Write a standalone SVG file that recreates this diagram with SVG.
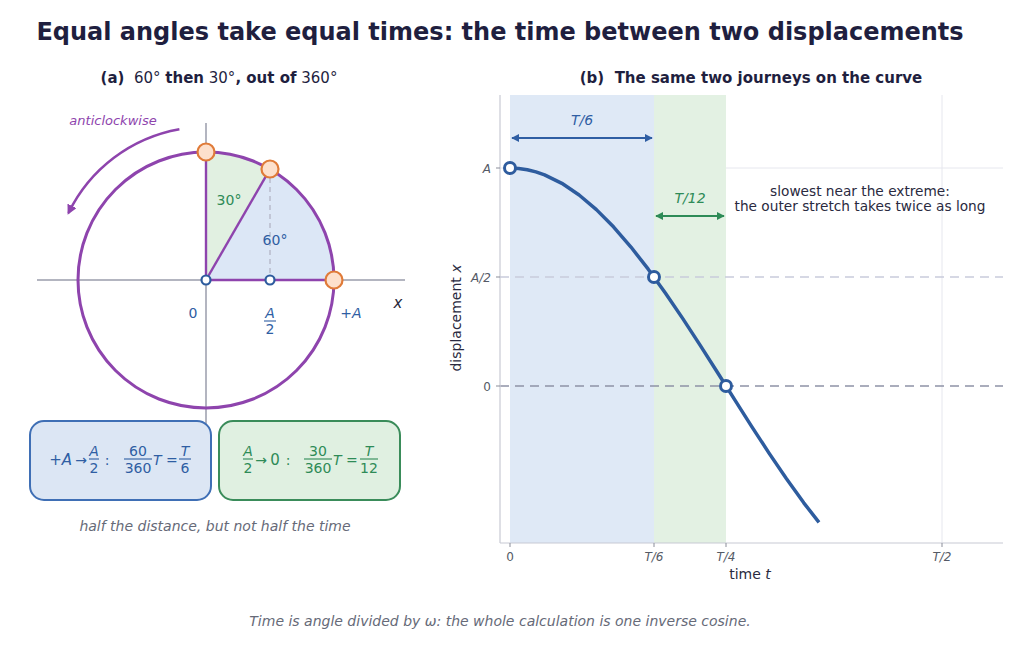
<svg xmlns="http://www.w3.org/2000/svg" width="1024" height="650" viewBox="0 0 1024 650">
<style>
text{font-family:"DejaVu Sans","Liberation Sans",sans-serif;}
.title{font-size:24px;font-weight:bold;fill:#1f1f3f;}
.sub{font-size:15px;fill:#1f1f3f;}
.b{font-weight:bold;}
.it{font-style:italic;}
.blue{fill:#2f5ea3;}
.green{fill:#2e8b57;}
.purple{fill:#8e44ad;}
.cap{font-size:14px;font-style:italic;fill:#666a78;}
.tick{font-size:12px;fill:#555a66;}
.ax{stroke:#9a9cab;stroke-width:1.5;fill:none;}
.orange{fill:#fde0cc;stroke:#e07b39;stroke-width:2.2;}
.hol{fill:#fff;stroke:#2e5c9e;stroke-width:2.2;}
.hol3{fill:#fff;stroke:#2e5c9e;stroke-width:3;}
</style>
<defs>
<marker id="ahP" viewBox="0 0 10 10" refX="8" refY="5" markerWidth="4" markerHeight="4" orient="auto"><path d="M0,0 L10,5 L0,10 z" fill="#8e44ad"/></marker>
<marker id="ahB" viewBox="0 0 10 10" refX="9" refY="5" markerWidth="4" markerHeight="4" orient="auto-start-reverse"><path d="M0,0 L10,5 L0,10 z" fill="#2f5ea3"/></marker>
<marker id="ahG" viewBox="0 0 10 10" refX="9" refY="5" markerWidth="4" markerHeight="4" orient="auto-start-reverse"><path d="M0,0 L10,5 L0,10 z" fill="#2e8b57"/></marker>
</defs>
<rect width="1024" height="650" fill="#fff"/>
<text class="title" x="500" y="40" text-anchor="middle">Equal angles take equal times: the time between two displacements</text>

<!-- Panel a -->
<g id="panel-a">
<text class="sub" x="219" y="83" text-anchor="middle" xml:space="preserve"><tspan class="b">(a)</tspan>  60° <tspan class="b">then</tspan> 30°<tspan class="b">, out of</tspan> 360°</text>
<path d="M206,280 L334,280 A128,128 0 0 0 270,169.15 Z" fill="#dce7f6"/>
<path d="M206,280 L270,169.15 A128,128 0 0 0 206,152 Z" fill="#e1f0e1"/>
<line class="ax" x1="37" y1="280" x2="405" y2="280"/>
<line class="ax" x1="206" y1="123" x2="206" y2="435"/>
<line x1="270" y1="169" x2="270" y2="280" stroke="#b8bccb" stroke-width="1.5" stroke-dasharray="5,4"/>
<g stroke="#8e44ad" stroke-width="2.4" fill="none">
<line x1="206" y1="280" x2="334" y2="280"/>
<line x1="206" y1="280" x2="206" y2="152"/>
<line x1="206" y1="280" x2="270" y2="169.15"/>
</g>
<circle cx="206" cy="280" r="128" fill="none" stroke="#8e44ad" stroke-width="3"/>
<path d="M179.4,129.3 A153,153 0 0 0 68.5,213" fill="none" stroke="#8e44ad" stroke-width="2.5" marker-end="url(#ahP)"/>
<text class="purple it" x="113" y="125" text-anchor="middle" font-size="13">anticlockwise</text>
<text class="green" x="229" y="205" text-anchor="middle" font-size="14">30°</text>
<text class="blue" x="275" y="245" text-anchor="middle" font-size="14">60°</text>
<circle class="orange" cx="206" cy="152" r="8.5"/>
<circle class="orange" cx="270" cy="169" r="8.5"/>
<circle class="orange" cx="334" cy="280" r="8.5"/>
<circle class="hol" cx="206" cy="280" r="4.5"/>
<circle class="hol" cx="270" cy="280" r="4.5"/>
<text class="it" x="398" y="308" text-anchor="middle" font-size="15" fill="#2a2a3a">x</text>
<text class="blue" x="193" y="318" text-anchor="middle" font-size="14">0</text>
<text class="blue it" x="270" y="318" text-anchor="middle" font-size="14">A</text>
<line x1="264" y1="321" x2="276" y2="321" stroke="#2f5ea3" stroke-width="1.1"/>
<text class="blue" x="270" y="334" text-anchor="middle" font-size="14">2</text>
<text class="blue" x="351" y="318" text-anchor="middle" font-size="14">+<tspan class="it">A</tspan></text>
</g>

<g id="box-blue">
<rect x="30" y="421" width="181" height="79" rx="14" fill="#dce6f4" stroke="#3f6fb5" stroke-width="2"/>
<text class="blue" x="72" y="465" text-anchor="end" font-size="15">+<tspan class="it">A</tspan></text>
<text class="blue" x="81" y="465" text-anchor="middle" font-size="14">→</text>
<text class="blue it" x="94" y="456" text-anchor="middle" font-size="14">A</text>
<line x1="89" y1="459" x2="99" y2="459" stroke="#2f5ea3" stroke-width="1.1"/>
<text class="blue" x="94" y="473" text-anchor="middle" font-size="14">2</text>
<text class="blue" x="107" y="465" text-anchor="middle" font-size="14">:</text>
<text class="blue" x="138" y="456" text-anchor="middle" font-size="14">60</text>
<line x1="124" y1="459" x2="152" y2="459" stroke="#2f5ea3" stroke-width="1.1"/>
<text class="blue" x="138" y="473" text-anchor="middle" font-size="14">360</text>
<text class="blue" x="153" y="465" font-size="14"><tspan class="it">T</tspan> =</text>
<text class="blue it" x="185" y="456" text-anchor="middle" font-size="14">T</text>
<line x1="179" y1="459" x2="191" y2="459" stroke="#2f5ea3" stroke-width="1.1"/>
<text class="blue" x="185" y="473" text-anchor="middle" font-size="14">6</text>
</g>

<g id="box-green">
<rect x="219" y="421" width="181" height="79" rx="14" fill="#e0f0e1" stroke="#3a8c5a" stroke-width="2"/>
<text class="green it" x="248" y="456" text-anchor="middle" font-size="14">A</text>
<line x1="243" y1="459" x2="253" y2="459" stroke="#2e8b57" stroke-width="1.1"/>
<text class="green" x="248" y="473" text-anchor="middle" font-size="14">2</text>
<text class="green" x="261" y="465" text-anchor="middle" font-size="14">→</text>
<text class="green" x="275" y="465" text-anchor="middle" font-size="15">0</text>
<text class="green" x="288" y="465" text-anchor="middle" font-size="14">:</text>
<text class="green" x="318" y="456" text-anchor="middle" font-size="14">30</text>
<line x1="304" y1="459" x2="332" y2="459" stroke="#2e8b57" stroke-width="1.1"/>
<text class="green" x="318" y="473" text-anchor="middle" font-size="14">360</text>
<text class="green" x="333" y="465" font-size="14"><tspan class="it">T</tspan> =</text>
<text class="green it" x="369" y="456" text-anchor="middle" font-size="14">T</text>
<line x1="360" y1="459" x2="378" y2="459" stroke="#2e8b57" stroke-width="1.1"/>
<text class="green" x="369" y="473" text-anchor="middle" font-size="14">12</text>
</g>
<text class="cap" x="215" y="531" text-anchor="middle">half the distance, but not half the time</text>

<!-- Panel b -->
<g id="panel-b">
<text class="sub b" x="751" y="83" text-anchor="middle" xml:space="preserve">(b)  The same two journeys on the curve</text>
<line x1="500" y1="168" x2="1003" y2="168" stroke="#e6e7ee" stroke-width="1"/>
<line x1="942" y1="95" x2="942" y2="543" stroke="#e6e7ee" stroke-width="1"/>
<rect x="510" y="95" width="144" height="448" fill="#dfe9f6"/>
<rect x="654" y="95" width="72" height="448" fill="#e3f1e3"/>
<line x1="500" y1="277" x2="1003" y2="277" stroke="#c9ccdb" stroke-width="1.5" stroke-dasharray="9,6"/>
<line x1="500" y1="386" x2="1003" y2="386" stroke="#8f93a6" stroke-width="1.5" stroke-dasharray="9,6"/>
<line x1="500" y1="95" x2="500" y2="543" stroke="#c8cad4" stroke-width="1.2"/>
<line x1="500" y1="543" x2="1003" y2="543" stroke="#c8cad4" stroke-width="1.2"/>
<g stroke="#8a8d99" stroke-width="1">
<line x1="496" y1="168" x2="500" y2="168"/><line x1="496" y1="277" x2="500" y2="277"/><line x1="496" y1="386" x2="500" y2="386"/>
<line x1="510" y1="543" x2="510" y2="547"/><line x1="654" y1="543" x2="654" y2="547"/><line x1="726" y1="543" x2="726" y2="547"/><line x1="942" y1="543" x2="942" y2="547"/>
</g>
<text class="tick it" x="491" y="173" text-anchor="end">A</text>
<text class="tick it" x="491" y="282" text-anchor="end">A/2</text>
<text class="tick" x="491" y="391" text-anchor="end">0</text>
<text class="tick" x="510" y="561" text-anchor="middle">0</text>
<text class="tick it" x="654" y="561" text-anchor="middle">T/6</text>
<text class="tick it" x="726" y="561" text-anchor="middle">T/4</text>
<text class="tick it" x="942" y="561" text-anchor="middle">T/2</text>
<text x="750" y="579" text-anchor="middle" font-size="14" fill="#2a2a40">time <tspan class="it">t</tspan></text>
<text transform="translate(461,318) rotate(-90)" text-anchor="middle" font-size="14" fill="#2a2a40">displacement <tspan class="it">x</tspan></text>
<polyline points="510,168 518.6,168.4 527.28,169.72 535.9,171.9 544.56,174.85 561.84,183.31 579.12,194.96 596.4,209.63 613.68,227.08 630.96,247.04 648.24,269.19 665.52,293.18 682.8,318.63 700.08,345.15 717.36,372.31 734.64,399.69 751.92,426.85 769.2,453.37 786.48,478.82 803.76,502.81 818.97,522.4" fill="none" stroke="#2e5c9e" stroke-width="3.5" stroke-linejoin="round"/>
<circle class="hol3" cx="510" cy="168" r="5.5"/>
<circle class="hol3" cx="654" cy="277" r="5.5"/>
<circle class="hol3" cx="726" cy="386" r="5.5"/>
<text x="860" y="196" text-anchor="middle" font-size="13.7" fill="#2a2a40">slowest near the extreme:</text>
<text x="860" y="211" text-anchor="middle" font-size="13.7" fill="#2a2a40">the outer stretch takes twice as long</text>
<text class="blue it" x="582" y="125" text-anchor="middle" font-size="14">T/6</text>
<text class="green it" x="690" y="203" text-anchor="middle" font-size="14">T/12</text>
</g>
<g id="connectors">
<line x1="512" y1="138" x2="652" y2="138" stroke="#2f5ea3" stroke-width="2" marker-start="url(#ahB)" marker-end="url(#ahB)"/>
<line x1="656" y1="216" x2="724" y2="216" stroke="#2e8b57" stroke-width="2" marker-start="url(#ahG)" marker-end="url(#ahG)"/>
</g>
<text class="cap" x="500" y="626" text-anchor="middle" font-size="14.2">Time is angle divided by ω: the whole calculation is one inverse cosine.</text>
</svg>
